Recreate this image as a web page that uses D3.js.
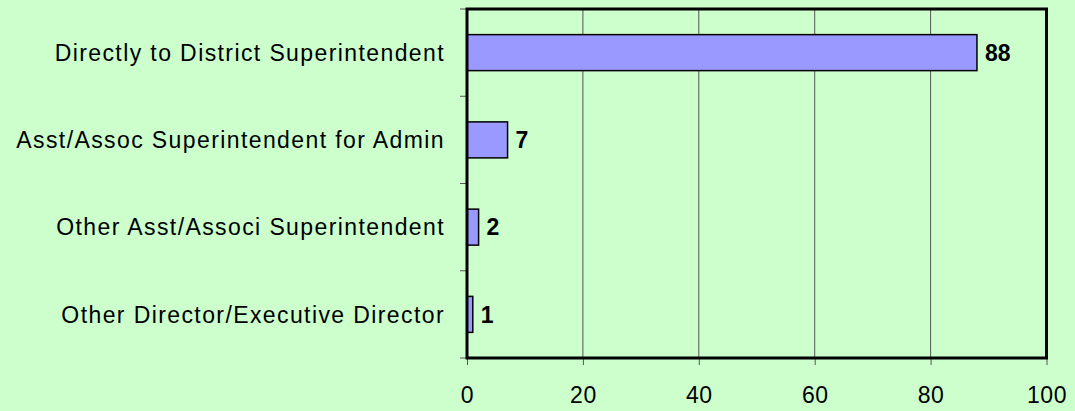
<!DOCTYPE html>
<meta charset="utf-8" />
<style>
  body { margin: 0; background: #ccffcc; }
  svg { display: block; }
  .axis text { font-family: "Liberation Sans", Arial, sans-serif; font-size: 23px; fill: #000; letter-spacing: 0.5px; }
  .axis path { display: none; }
  .axis line { stroke: #555; }
  .val { font-family: "Liberation Sans", Arial, sans-serif; font-size: 23px; font-weight: bold; }
  .ylab { font-family: "Liberation Sans", Arial, sans-serif; font-size: 23px; letter-spacing: 1.4px; }
</style>
<svg width="1075" height="411"></svg>
<script src="https://cdn.jsdelivr.net/npm/d3@7"></script>
<script>
  var categories = [
    "Directly to District Superintendent",
    "Asst/Assoc Superintendent for Admin",
    "Other Asst/Associ Superintendent",
    "Other Director/Executive Director"
  ];
  var values = [88, 7, 2, 1];
  var xTicks = [0, 20, 40, 60, 80, 100];

  var svg = d3.select("svg");
  var plotL = 467, plotR = 1046.5, plotT = 9, plotB = 358;

  var x = d3.scaleLinear().domain([0, 100]).range([plotL, plotR]);
  var y = d3.scaleBand().domain(categories).range([plotT, plotB]);
  var barH = 36;

  // gridlines
  svg.selectAll(".grid")
    .data(xTicks.slice(1, -1))
    .enter().append("line")
    .attr("x1", function(d) { return x(d); })
    .attr("x2", function(d) { return x(d); })
    .attr("y1", plotT).attr("y2", plotB)
    .attr("stroke", "#555").attr("stroke-width", 1);

  // bars
  svg.selectAll(".bar")
    .data(values)
    .enter().append("rect")
    .attr("x", x(0))
    .attr("y", function(d, i) { return y(categories[i]) + y.bandwidth() / 2 - barH / 2; })
    .attr("width", function(d) { return x(d) - x(0); })
    .attr("height", barH)
    .attr("fill", "#9999ff")
    .attr("stroke", "#000")
    .attr("stroke-width", 1.5);

  // value labels
  svg.selectAll(".val")
    .data(values)
    .enter().append("text")
    .attr("class", "val")
    .attr("x", function(d) { return x(d) + 8; })
    .attr("y", function(d, i) { return y(categories[i]) + y.bandwidth() / 2; })
    .attr("dy", "0.36em")
    .text(function(d) { return d; });

  // x axis
  svg.append("g")
    .attr("class", "axis")
    .attr("transform", "translate(0," + plotB + ")")
    .call(d3.axisBottom(x).tickValues(xTicks).tickSize(7).tickPadding(22));

  // y axis ticks at band boundaries
  var bounds = categories.map(function(c) { return y(c); }).concat([plotB]);
  svg.selectAll(".ytick")
    .data(bounds)
    .enter().append("line")
    .attr("x1", plotL - 7).attr("x2", plotL)
    .attr("y1", function(d) { return d; }).attr("y2", function(d) { return d; })
    .attr("stroke", "#555");

  svg.selectAll(".ylab")
    .data(categories)
    .enter().append("text")
    .attr("class", "ylab")
    .attr("x", plotL - 22)
    .attr("y", function(d) { return y(d) + y.bandwidth() / 2; })
    .attr("dy", "0.36em")
    .attr("text-anchor", "end")
    .text(function(d) { return d; });

  // frame
  svg.append("rect")
    .attr("x", plotL).attr("y", plotT)
    .attr("width", plotR - plotL).attr("height", plotB - plotT)
    .attr("fill", "none")
    .attr("stroke", "#000")
    .attr("stroke-width", 3);
</script>
